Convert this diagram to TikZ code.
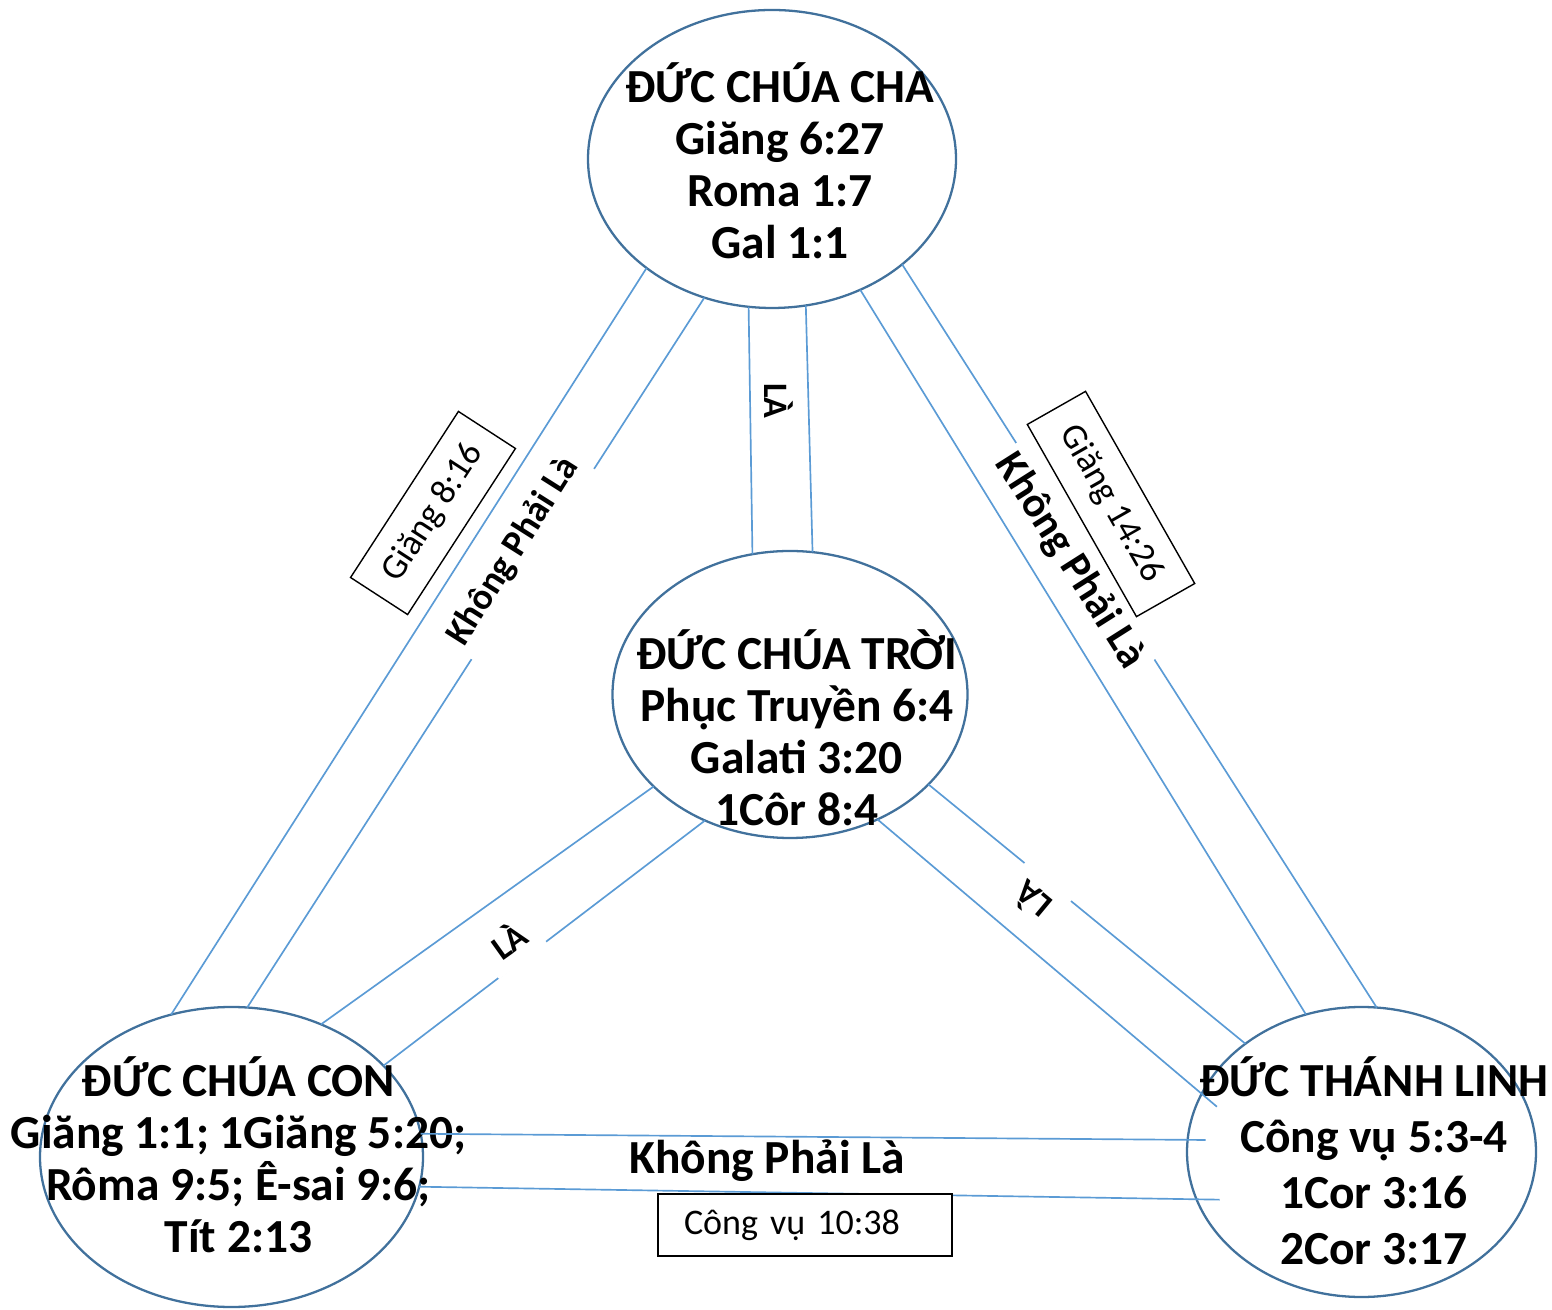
\documentclass[tikz,border=0pt]{standalone}
\usepackage{fontspec}
\setmainfont{Carlito}
\usepackage{xcolor}
\usetikzlibrary{shapes.geometric}
\definecolor{ringblue}{HTML}{41719C}
\definecolor{bandblue}{HTML}{5B9BD5}
\tikzset{
  person/.style={ellipse, draw=ringblue, line width=1.3pt, inner sep=0pt, outer sep=0pt},
  band/.style={draw=bandblue, line width=0.95pt},
  bigtext/.style={font=\bfseries\fontsize{27}{29.6}\selectfont, align=center},
  notlabel/.style={font=\bfseries\fontsize{27}{30}\selectfont},
  islabel/.style={font=\bfseries\fontsize{19.5}{22}\selectfont},
  refbox/.style={draw, line width=0.8pt, fill=white, font=\fontsize{20.5}{24}\selectfont, inner sep=0pt},
}

\begin{document}
\begin{tikzpicture}
	\useasboundingbox (0,0) rectangle (31.04,26.18);
	
	% the four persons
	\node[person, minimum width=7.36cm, minimum height=5.96cm] (cha) at (15.44,23.00) {};
	\node[person, minimum width=7.10cm, minimum height=5.74cm] (troi) at (15.80,12.29) {};
	\node[person, minimum width=7.66cm, minimum height=6.00cm] (con) at (4.63,3.04) {};
	\node[person, minimum width=6.98cm, minimum height=5.80cm] (linh) at (27.23,3.14) {};
	
	\node[bigtext] (chaText) at (15.60,22.96) {ĐỨC CHÚA CHA\\Giăng 6:27\\Roma 1:7\\Gal 1:1};
	\node[bigtext] (troiText) at (15.94,11.63) {ĐỨC CHÚA TRỜI\\Phục Truyền 6:4\\Galati 3:20\\1Côr 8:4};
	\node[bigtext] (conText) at (4.77,3.08) {ĐỨC CHÚA CON\\Giăng 1:1; 1Giăng 5:20;\\Rôma 9:5; Ê-sai 9:6;\\Tít 2:13};
	\node[bigtext, font=\bfseries\fontsize{27}{31.9}\selectfont] (linhText) at (27.48,2.96) {ĐỨC THÁNH LINH\\Công vụ 5:3-4\\1Cor 3:16\\2Cor 3:17};
	
	% double bands between the persons
	\draw[band] (cha.221) -- (con.113);
	\draw[band] (cha.244) -- (con.84);
	\draw[band] (cha.261) -- (troi.105);
	\draw[band] (cha.283) -- (troi.81);
	\draw[band] (cha.304) -- (linh.112);
	\draw[band] (cha.321) -- (linh.84);
	\draw[band] (troi.214) -- (con.56);
	\draw[band] (troi.236) -- (con.31);
	\draw[band] (troi.327) -- (linh.137);
	\draw[band, shorten >=-0.4cm] (troi.305) -- (linh.160);
	\draw[band, shorten >=-0.36cm] (con.7) -- (linh.176);
	\draw[band, shorten >=-0.46cm] (con.351) -- (linh.196);
	
	% labels on the bands
	\node[notlabel, font=\bfseries\fontsize{21}{24}\selectfont, fill=white, inner ysep=6.5pt, rotate=57.7] (notChaCon) at (10.26,15.15) {Không Phải Là};
	\node[refbox, rotate=57, minimum width=3.96cm, minimum height=1.36cm] (refChaCon) at (8.66,15.92) {Giăng 8:16};
	\node[notlabel, font=\bfseries\fontsize{24}{27}\selectfont, fill=white, rotate=-57.6] (notChaLinh) at (21.40,14.96) {Không Phải Là};
	\node[refbox, rotate=-60.4, minimum width=4.42cm, minimum height=1.34cm] (refChaLinh) at (22.22,16.10) {Giăng 14:26};
	\node[islabel, rotate=-90] (isChaTroi) at (15.57,18.16) {LÀ};
	\node[islabel, fill=white, inner sep=7pt, rotate=35.5] (isTroiCon) at (10.16,7.38) {LÀ};
	\node[islabel, fill=white, inner sep=7pt, rotate=140.3] (isTroiLinh) at (20.64,8.16) {LÀ};
	\node[notlabel] (notConLinh) at (15.34,2.96) {Không Phải Là};
	\node[refbox, text width=4.84cm, inner xsep=0.52cm, minimum height=1.24cm, align=left] (refConLinh) at (16.10,1.68) {Công vụ 10:38};
\end{tikzpicture}
\end{document}
